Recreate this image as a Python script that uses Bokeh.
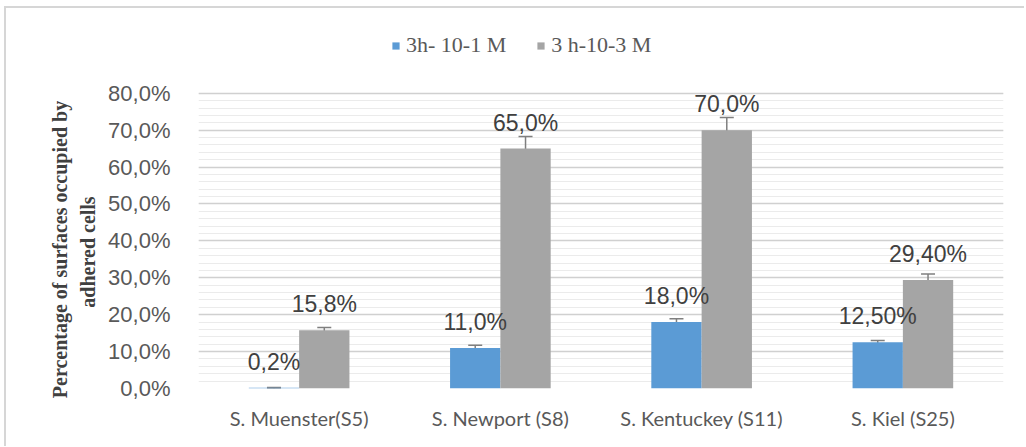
from bokeh.plotting import figure
from bokeh.models import (ColumnDataSource, FactorRange, Legend, LegendItem, Whisker,
                          TeeHead, FixedTicker)
from bokeh.transform import dodge
from bokeh.core.properties import value
from bokeh.embed import file_html
from bokeh.resources import INLINE

categories = ["S. Muenster(S5)", "S. Newport (S8)", "S. Kentuckey (S11)", "S. Kiel (S25)"]
series_names = ["3h- 10-1 M", "3 h-10-3 M"]
vals_1 = [0.2, 11.0, 18.0, 12.5]
vals_2 = [15.8, 65.0, 70.0, 29.4]
err_1 = [0.1, 0.7, 0.9, 0.5]
err_2 = [0.7, 3.3, 3.4, 1.6]
labels_1 = ["0,2%", "11,0%", "18,0%", "12,50%"]
labels_2 = ["15,8%", "65,0%", "70,0%", "29,40%"]
y_ticks = [0, 10, 20, 30, 40, 50, 60, 70, 80]
y_tick_labels = ["0,0%", "10,0%", "20,0%", "30,0%", "40,0%", "50,0%", "60,0%", "70,0%", "80,0%"]
y_title_lines = ["Percentage of surfaces occupied by", "adhered  cells"]

src = ColumnDataSource(dict(
    cats=categories, v1=vals_1, v2=vals_2,
    lo1=[v - e for v, e in zip(vals_1, err_1)], hi1=[v + e for v, e in zip(vals_1, err_1)],
    lo2=[v - e for v, e in zip(vals_2, err_2)], hi2=[v + e for v, e in zip(vals_2, err_2)],
    l1=labels_1, l2=labels_2,
))

# frame extends above the 80 % line so that the legend can sit inside it
p = figure(width=1020, height=440, output_backend="svg", toolbar_location=None,
           x_range=FactorRange(factors=categories, range_padding=0), y_range=(0, 97),
           min_border_left=192, min_border_right=23, min_border_top=22, min_border_bottom=60)
p.styles = {"border-left": "2px solid #d6d6d6", "border-top": "2px solid #d6d6d6",
            "margin-left": "4px", "margin-top": "6px"}

p.outline_line_color = None
p.background_fill_color = "white"
p.border_fill_color = "white"

c1 = "#5b9bd5"
c2 = "#a5a5a5"
x1 = dodge("cats", -0.125, range=p.x_range)
x2 = dodge("cats", 0.125, range=p.x_range)
r1 = p.vbar(x=x1, top="v1", width=0.25, source=src, fill_color=c1, line_color=None)
r2 = p.vbar(x=x2, top="v2", width=0.25, source=src, fill_color=c2, line_color=None)

for xx, lo, hi in [(x1, "lo1", "hi1"), (x2, "lo2", "hi2")]:
    w = Whisker(base=xx, lower=lo, upper=hi, source=src, line_color="#7f7f7f", line_width=1.5,
                upper_head=TeeHead(size=14, line_color="#7f7f7f", line_width=1.5),
                lower_head=TeeHead(size=14, line_color="#7f7f7f", line_width=1.5))
    p.add_layout(w)

for xx, yy, tt in [(x1, "v1", "l1"), (x2, "v2", "l2")]:
    p.text(x=xx, y=yy, text=tt, source=src, text_align="center", text_baseline="middle",
           y_offset=-26, text_font=value("Liberation Sans"), text_font_size="23px",
           text_color="#404040")

# axes
p.yaxis.ticker = FixedTicker(ticks=y_ticks, minor_ticks=list(range(0, 81, 2)))
p.yaxis.major_label_overrides = {t: l for t, l in zip(y_ticks, y_tick_labels)}
p.yaxis.axis_line_color = None
p.yaxis.major_tick_line_color = None
p.yaxis.minor_tick_line_color = None
p.yaxis.major_label_text_font = "Liberation Sans"
p.yaxis.major_label_text_font_size = "22px"
p.yaxis.major_label_text_color = "#595959"
p.yaxis.major_label_standoff = 22
pad = "\u00a0" * 16  # shifts the title's centre down to the 0-80 % band
p.yaxis.axis_label = "\n".join(line + pad for line in y_title_lines)
p.yaxis.axis_label_text_font = "Liberation Serif"
p.yaxis.axis_label_text_font_style = "bold"
p.yaxis.axis_label_text_font_size = "20px"
p.yaxis.axis_label_text_color = "#404040"
p.yaxis.axis_label_text_line_height = 1.3
p.yaxis.axis_label_standoff = 6

p.xaxis.axis_line_color = None
p.xaxis.major_tick_line_color = None
p.xaxis.minor_tick_line_color = None
p.xaxis.major_label_text_font = "Lato"
p.xaxis.major_label_text_font_size = "20px"
p.xaxis.major_label_text_color = "#595959"
p.xaxis.major_label_standoff = 11

p.xgrid.grid_line_color = None
p.ygrid.grid_line_color = "#d0d0d0"
p.ygrid.grid_line_width = 1.5
p.ygrid.minor_grid_line_color = "#ebebeb"
p.ygrid.minor_grid_line_width = 1

legend = Legend(items=[LegendItem(label=series_names[0], renderers=[r1]),
                       LegendItem(label=series_names[1], renderers=[r2])],
                orientation="horizontal", location=(193, 330),
                label_text_font="Liberation Serif", label_text_font_size="22px",
                label_text_color="#595959", glyph_width=9, glyph_height=9,
                label_standoff=6, spacing=30, padding=0, margin=0,
                border_line_color=None, background_fill_alpha=0)
p.add_layout(legend, "center")

open("out.html", "w").write(file_html(p, INLINE))
